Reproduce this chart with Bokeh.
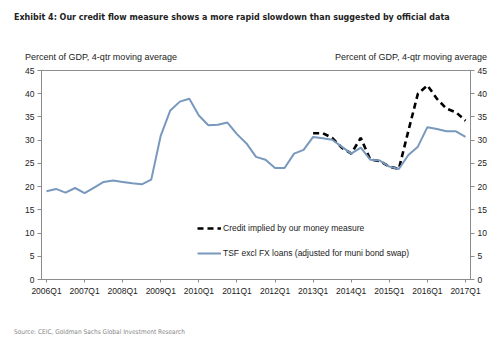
from bokeh.plotting import figure
from bokeh.models import (ColumnDataSource, LinearAxis, Range1d, Legend, LegendItem,
                          Div, FixedTicker)
from bokeh.layouts import column
from bokeh.embed import file_html
from bokeh.resources import INLINE

# ---------------- data ----------------
tick_labels = ["2006Q1", "2007Q1", "2008Q1", "2009Q1", "2010Q1", "2011Q1",
               "2012Q1", "2013Q1", "2014Q1", "2015Q1", "2016Q1", "2017Q1"]
tsf = [19.0, 19.5, 18.7, 19.7, 18.6, 19.8, 21.0, 21.3, 21.0, 20.7, 20.5, 21.5,
       31.0, 36.4, 38.3, 38.9, 35.3, 33.2, 33.3, 33.8,
       31.3, 29.3, 26.4, 25.8, 24.0, 24.0, 27.1, 27.9,
       30.7, 30.4, 30.1, 28.6, 27.1, 28.4, 25.8, 25.6,
       24.3, 23.8, 26.8, 28.6, 32.8, 32.4, 31.9, 31.9, 30.7]
credit_start = 28  # 2013Q1
credit = [31.5, 31.5, 30.5, 28.4, 27.1, 30.5, 25.8, 25.5, 24.3, 23.8,
          32.0, 40.0, 41.8, 38.9, 36.8, 36.0, 34.2]
y_ticks = [0, 5, 10, 15, 20, 25, 30, 35, 40, 45]
axis_title = "Percent of GDP, 4-qtr moving average"
title = "Exhibit 4: Our credit flow measure shows a more rapid slowdown than suggested by official data"
source_note = "Source: CEIC, Goldman Sachs Global Investment Research"

tsf_src = ColumnDataSource(dict(x=list(range(len(tsf))), y=tsf))
cr_src = ColumnDataSource(dict(x=list(range(credit_start, credit_start + len(credit))), y=credit))

FONT = "Liberation Sans"
AXC = "#8c8c8c"


def separator(h, color, top):
    s = figure(width=481, height=h, output_backend="svg", toolbar_location=None,
               min_border=0, margin=(top, 0, 0, 14), x_axis_location=None, y_axis_location=None)
    s.outline_line_color = None
    s.grid.visible = False
    s.background_fill_color = color
    s.border_fill_color = color
    return s


sep_top = separator(2, "#c8c8c8", 3)

header = Div(
    text=(
        '<div style="position:relative;width:500px;height:57px;">'
        '<div style="position:absolute;left:14px;top:6px;white-space:nowrap;'
        'font-family:\'DejaVu Sans Condensed\';font-weight:bold;font-size:8.9px;color:#222;">'
        + title + '</div>'
        '<div style="position:absolute;left:25px;top:46px;white-space:nowrap;'
        'font-family:\'Liberation Sans\';font-size:9px;color:#222;">' + axis_title + '</div>'
        '<div style="position:absolute;right:13px;top:46px;white-space:nowrap;text-align:right;'
        'font-family:\'Liberation Sans\';font-size:9px;color:#222;">' + axis_title + '</div>'
        '</div>'
    ),
    width=500, height=57, margin=0,
)

p = figure(width=500, height=254, output_backend="svg", toolbar_location=None,
           x_range=Range1d(-0.525, 44.525), y_range=Range1d(0, 45),
           min_border_left=41, min_border_right=30, min_border_top=8, min_border_bottom=37,
           y_axis_location=None, x_axis_location=None, margin=0)
p.outline_line_color = AXC
p.outline_line_width = 1
p.grid.visible = False
p.background_fill_color = "white"
p.border_fill_color = "white"


def style_axis(ax):
    ax.axis_line_color = AXC
    ax.major_tick_line_color = AXC
    ax.minor_tick_line_color = None
    ax.major_tick_out = 4
    ax.major_tick_in = 0
    ax.major_label_text_font = FONT
    ax.major_label_text_font_size = "8.5px"
    ax.major_label_text_color = "#222"
    ax.major_label_standoff = 3


xb = LinearAxis(ticker=FixedTicker(ticks=[4 * i for i in range(len(tick_labels))]))
xb.major_label_overrides = {4 * i: lab for i, lab in enumerate(tick_labels)}
style_axis(xb)
xb.major_tick_out = 3
p.add_layout(xb, "below")

yl = LinearAxis(ticker=FixedTicker(ticks=y_ticks))
style_axis(yl)
p.add_layout(yl, "left")
yr = LinearAxis(ticker=FixedTicker(ticks=y_ticks))
style_axis(yr)
p.add_layout(yr, "right")

r_cr = p.line("x", "y", source=cr_src, line_color="black", line_width=2.6, line_dash="6 4")
r_tsf = p.line("x", "y", source=tsf_src, line_color="#7898bd", line_width=2)

legend = Legend(items=[LegendItem(label="Credit implied by our money measure", renderers=[r_cr]),
                       LegendItem(label="TSF excl FX loans (adjusted for muni bond swap)", renderers=[r_tsf])],
                location=(156, 16), padding=0, margin=0, spacing=5,
                glyph_width=24, glyph_height=20, label_height=20, label_standoff=2,
                label_text_font=FONT, label_text_font_size="8.5px", label_text_color="#222",
                border_line_color=None, background_fill_alpha=0)
p.add_layout(legend, "center")

sep_bottom = separator(2, "#cccccc", 4)

footer = Div(
    text=(
        '<div style="position:relative;width:500px;height:28px;">'
        '<div style="position:absolute;left:14px;top:6px;white-space:nowrap;'
        'font-family:\'DejaVu Sans Condensed\';font-size:6.5px;color:#888;">'
        + source_note + '</div>'
        '</div>'
    ),
    width=500, height=28, margin=0,
)

layout = column(sep_top, header, p, sep_bottom, footer, spacing=0)
open("out.html", "w").write(file_html(layout, INLINE))
